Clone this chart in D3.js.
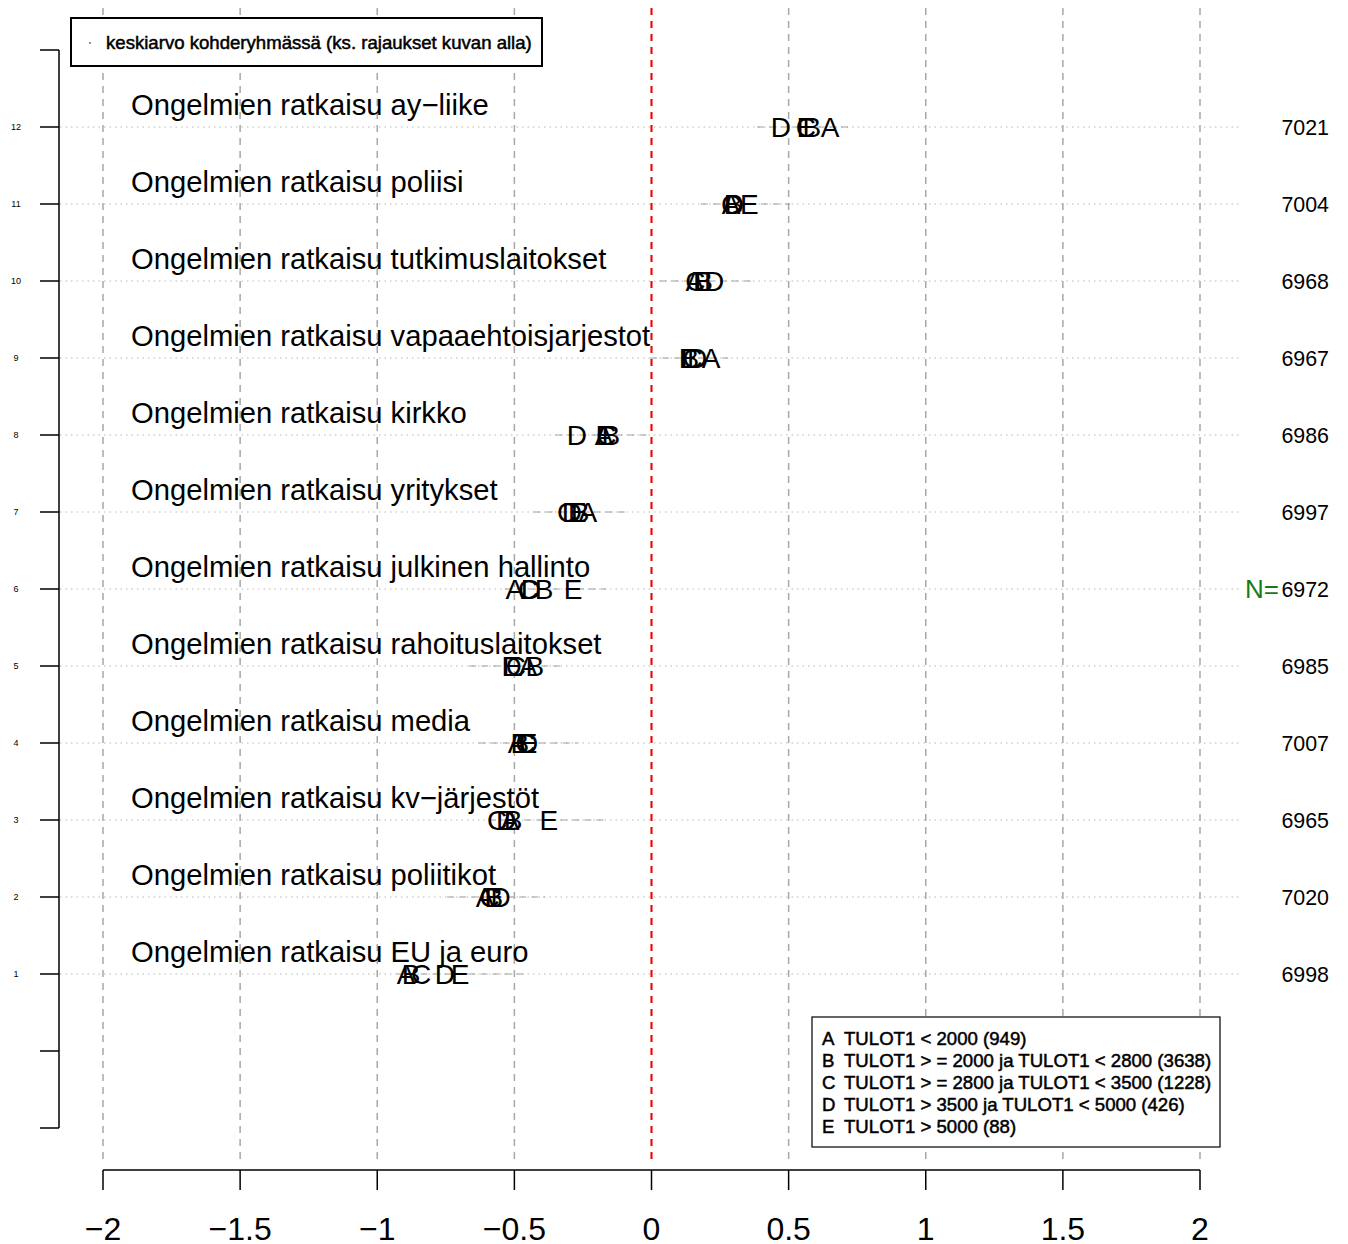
<!DOCTYPE html>
<html><head><meta charset="utf-8">
<script src="https://cdnjs.cloudflare.com/ajax/libs/d3/7.8.5/d3.min.js"></script>
<style>body{margin:0;background:#fff}svg{display:block;font-family:"Liberation Sans",Arial,sans-serif}</style>
</head><body>
<script>
const rowLabels = ["Ongelmien ratkaisu EU ja euro","Ongelmien ratkaisu poliitikot","Ongelmien ratkaisu kv\u2212järjestöt","Ongelmien ratkaisu media","Ongelmien ratkaisu rahoituslaitokset","Ongelmien ratkaisu julkinen hallinto","Ongelmien ratkaisu yritykset","Ongelmien ratkaisu kirkko","Ongelmien ratkaisu vapaaehtoisjarjestot","Ongelmien ratkaisu tutkimuslaitokset","Ongelmien ratkaisu poliisi","Ongelmien ratkaisu ay\u2212liike"];
const groups = ["A","B","C","D","E"];
const valA = [-0.895,-0.607,-0.516,-0.49,-0.45,-0.498,-0.232,-0.173,0.217,0.158,0.29,0.651];
const valB = [-0.877,-0.575,-0.505,-0.48,-0.425,-0.392,-0.26,-0.148,0.14,0.19,0.30,0.585];
const valC = [-0.84,-0.59,-0.563,-0.46,-0.495,-0.45,-0.308,-0.165,0.15,0.16,0.29,0.563];
const valD = [-0.753,-0.55,-0.53,-0.45,-0.51,-0.44,-0.29,-0.272,0.166,0.228,0.30,0.472];
const valE = [-0.698,-0.575,-0.374,-0.45,-0.51,-0.286,-0.27,-0.17,0.133,0.185,0.357,0.563];
const rangeLo = [-0.93,-0.745,-0.595,-0.63,-0.665,-0.535,-0.43,-0.35,-0.005,0.03,0.18,0.385];
const rangeHi = [-0.465,-0.39,-0.175,-0.27,-0.315,-0.165,-0.08,-0.01,0.28,0.38,0.505,0.72];
const nValues = [6998,7020,6965,7007,6985,6972,6997,6986,6967,6968,7004,7021];
const xTicks = [-2,-1.5,-1,-0.5,0,0.5,1,1.5,2];
const yTicks = [-1,0,1,2,3,4,5,6,7,8,9,10,11,12,13];
const legendItems = ["TULOT1 < 2000 (949)","TULOT1 > = 2000 ja TULOT1 < 2800 (3638)","TULOT1 > = 2800 ja TULOT1 < 3500 (1228)","TULOT1 > 3500 ja TULOT1 < 5000 (426)","TULOT1 > 5000 (88)"];
const topLegend = "keskiarvo kohderyhmässä (ks. rajaukset kuvan alla)";

const W=1348,H=1244;
const svg=d3.select("body").append("svg").attr("width",W).attr("height",H);
const x=d3.scaleLinear().domain([-2,2]).range([103,1200]);
const y=d3.scaleLinear().domain([-1,13]).range([1128,50]);
const fmt=v=>String(v).replace("-","\u2212");

// vertical grid
svg.append("g").selectAll("line").data(xTicks).join("line")
  .attr("x1",d=>x(d)).attr("x2",d=>x(d)).attr("y1",8).attr("y2",1162)
  .attr("stroke","#a8a8a8").attr("stroke-width",1.5).attr("stroke-dasharray","7,6");
// horizontal dotted
const rows=d3.range(12);
svg.append("g").selectAll("line").data(rows).join("line")
  .attr("x1",60).attr("x2",1240).attr("y1",i=>y(i+1)).attr("y2",i=>y(i+1))
  .attr("stroke","#b8b8b8").attr("stroke-width",1).attr("stroke-dasharray","1.5,4");
// range dashed segments
svg.append("g").selectAll("line").data(rows).join("line")
  .attr("x1",i=>x(rangeLo[i])).attr("x2",i=>x(rangeHi[i])).attr("y1",i=>y(i+1)).attr("y2",i=>y(i+1))
  .attr("stroke","#a0a0a0").attr("stroke-width",1).attr("stroke-dasharray","7,5");
// red zero line
svg.append("line").attr("x1",x(0)).attr("x2",x(0)).attr("y1",8).attr("y2",1165)
  .attr("stroke","#ff0000").attr("stroke-width",2).attr("stroke-dasharray","7,6");

// row labels
svg.append("g").selectAll("text").data(rows).join("text")
  .attr("x",131).attr("y",i=>y(i+1)-12).attr("font-size",29.2).attr("fill","#000")
  .text(i=>rowLabels[i]);

// letters
const vals=[valA,valB,valC,valD,valE];
const pts=[];
rows.forEach(i=>groups.forEach((g,k)=>pts.push({i,g,v:vals[k][i]})));
svg.append("g").selectAll("text").data(pts).join("text")
  .attr("x",d=>x(d.v)).attr("y",d=>y(d.i+1)+10).attr("text-anchor","middle")
  .attr("font-size",28).attr("fill","#000").text(d=>d.g);

// N values
svg.append("g").selectAll("text").data(rows).join("text")
  .attr("x",1329).attr("y",i=>y(i+1)+8).attr("text-anchor","end").attr("font-size",21.4)
  .text(i=>nValues[i]);
svg.append("text").attr("x",1279).attr("y",y(6)+9).attr("text-anchor","end")
  .attr("font-size",26).attr("fill","#1a7a1a").text("N=");

// left axis
const ga=svg.append("g");
ga.append("line").attr("x1",59).attr("x2",59).attr("y1",y(13)).attr("y2",y(-1)).attr("stroke","#000").attr("stroke-width",1.5);
ga.selectAll("line.t").data(yTicks).join("line").attr("class","t")
  .attr("x1",40).attr("x2",59).attr("y1",d=>y(d)).attr("y2",d=>y(d)).attr("stroke","#000").attr("stroke-width",1.5);
ga.selectAll("text").data(yTicks.filter(d=>d>=1&&d<=12)).join("text")
  .attr("x",16).attr("y",d=>y(d)+3).attr("text-anchor","middle").attr("font-size",9).text(d=>d);

// bottom axis
const gb=svg.append("g");
gb.append("line").attr("x1",x(-2)).attr("x2",x(2)).attr("y1",1170).attr("y2",1170).attr("stroke","#000").attr("stroke-width",1.5);
gb.selectAll("line.t").data(xTicks).join("line").attr("class","t")
  .attr("x1",d=>x(d)).attr("x2",d=>x(d)).attr("y1",1170).attr("y2",1190).attr("stroke","#000").attr("stroke-width",1.5);
gb.selectAll("text").data(xTicks).join("text")
  .attr("x",d=>x(d)).attr("y",1240).attr("text-anchor","middle").attr("font-size",32).text(fmt);

// top legend
svg.append("rect").attr("x",71).attr("y",18).attr("width",471).attr("height",48)
  .attr("fill","#fff").attr("stroke","#000").attr("stroke-width",2);
svg.append("circle").attr("cx",90).attr("cy",43).attr("r",0.8).attr("fill","#000");
svg.append("text").attr("x",106).attr("y",49).attr("font-size",18.6).attr("stroke","#000").attr("stroke-width",0.5).text(topLegend);

// bottom legend
svg.append("rect").attr("x",812).attr("y",1017).attr("width",408).attr("height",130)
  .attr("fill","#fff").attr("stroke","#000").attr("stroke-width",1.2);
const lg=svg.append("g").selectAll("g").data(legendItems).join("g")
  .attr("transform",(d,i)=>`translate(0,${1045+i*22})`);
lg.append("text").attr("x",822).attr("font-size",18.6).attr("stroke","#000").attr("stroke-width",0.5).text((d,i)=>groups[i]);
lg.append("text").attr("x",844).attr("font-size",18.6).attr("stroke","#000").attr("stroke-width",0.5).text(d=>d);
</script>
</body></html>
